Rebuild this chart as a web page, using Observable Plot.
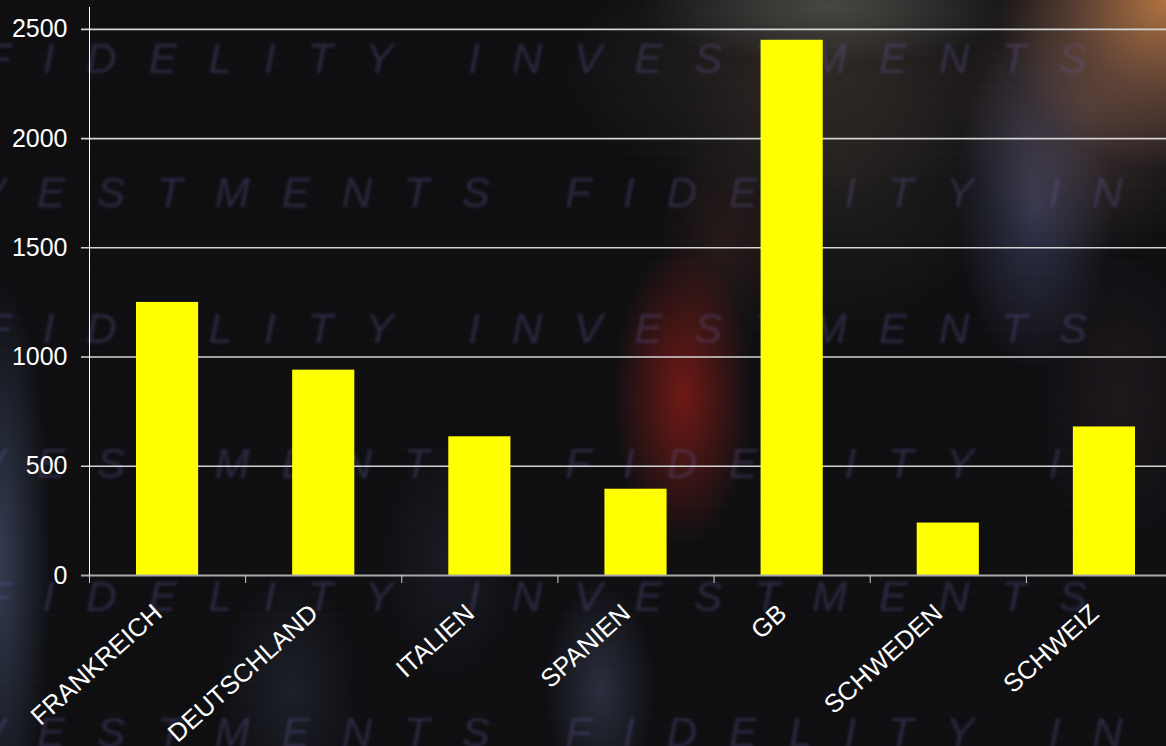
<!DOCTYPE html>
<html>
<head>
<meta charset="utf-8">
<script src="https://cdn.jsdelivr.net/npm/d3@7"></script>
<script src="https://cdn.jsdelivr.net/npm/@observablehq/plot@0.6"></script>
<style>
  html, body { margin: 0; padding: 0; overflow: hidden; background: #0e0e10; }
  #stage {
    position: relative; width: 1166px; height: 746px; overflow: hidden;
    background-color: #0f0f12;
    background-image:
      radial-gradient(ellipse 170px 170px at 1166px 0px, rgba(185,120,68,0.95), rgba(140,95,70,0.5) 55%, transparent),
      radial-gradient(ellipse 130px 150px at 1090px 110px, rgba(120,90,85,0.45), transparent),
      radial-gradient(ellipse 80px 170px at 1035px 200px, rgba(75,80,120,0.6), transparent),
      radial-gradient(ellipse 70px 150px at 683px 395px, rgba(135,28,22,0.8), transparent),
      radial-gradient(ellipse 60px 110px at 720px 250px, rgba(80,40,35,0.35), transparent),
      radial-gradient(ellipse 190px 60px at 830px 5px, rgba(105,110,102,0.55), transparent),
      radial-gradient(ellipse 260px 130px at 820px 70px, rgba(85,70,60,0.4), transparent),
      radial-gradient(ellipse 170px 160px at 840px 170px, rgba(75,66,58,0.3), transparent),
      radial-gradient(ellipse 80px 150px at 1120px 400px, rgba(60,40,48,0.35), transparent),
      radial-gradient(ellipse 50px 280px at 0px 560px, rgba(75,90,125,0.6), transparent),
      radial-gradient(ellipse 55px 110px at 600px 690px, rgba(75,85,115,0.45), transparent),
      radial-gradient(ellipse 70px 120px at 290px 690px, rgba(60,70,95,0.3), transparent),
      radial-gradient(ellipse 70px 120px at 450px 560px, rgba(60,65,90,0.25), transparent),
      repeating-linear-gradient(180deg, rgba(255,255,255,0.0) 0px, rgba(255,255,255,0.0) 9px, rgba(255,255,255,0.018) 10px, rgba(255,255,255,0.0) 11px);
  }
  .wm {
    position: absolute; white-space: nowrap;
    font-family: "Liberation Sans", Arial, sans-serif; font-style: italic;
    font-size: 42px; letter-spacing: 32px; line-height: 1;
    color: rgba(105,95,165,0.3); filter: blur(1.8px);
  }
  #chart { position: absolute; left: 0; top: 0; }
</style>
</head>
<body>
<div id="stage">
  <div class="wm" style="left:-15px; top:38px">FIDELITY INVESTMENTS</div>
  <div class="wm" style="left:-23px; top:172px">VESTMENTS FIDELITY IN</div>
  <div class="wm" style="left:-15px; top:308px">FIDELITY INVESTMENTS</div>
  <div class="wm" style="left:-23px; top:443px">VESTMENTS FIDELITY IN</div>
  <div class="wm" style="left:-15px; top:576px">FIDELITY INVESTMENTS</div>
  <div class="wm" style="left:-23px; top:712px">VESTMENTS FIDELITY IN</div>
  <div id="chart"></div>
</div>
<script>
const countries = ["FRANKREICH", "DEUTSCHLAND", "ITALIEN", "SPANIEN", "GB", "SCHWEDEN", "SCHWEIZ"];
const values = [1250, 940, 635, 395, 2450, 240, 680];
const yTicks = [0, 500, 1000, 1500, 2000, 2500];

const data = countries.map((c, i) => ({country: c, value: values[i], i}));
const boundaries = d3.range(countries.length + 1);

const chart = Plot.plot({
  width: 1200,
  height: 746,
  marginLeft: 89,
  marginRight: 18,
  marginTop: 7,
  marginBottom: 171,
  x: {type: "linear", domain: [0, countries.length], axis: null},
  y: {domain: [0, 2600], axis: null},
  style: {background: "transparent", maxWidth: "none", fontFamily: "'Liberation Sans', Arial, sans-serif", color: "white", overflow: "visible"},
  marks: [
    Plot.ruleY(yTicks.filter(d => d > 0), {y: d => d, stroke: "#d4d4d4", strokeWidth: 1.6, insetLeft: -8}),
    Plot.rectY(data, {x1: "i", x2: d => d.i + 1, y: "value", fill: "#ffff00", insetLeft: 47, insetRight: 47}),
    Plot.ruleY([0], {stroke: "#a9a9a9", strokeWidth: 2, insetLeft: -8}),
    Plot.ruleX([0], {y1: 0, y2: 2600, stroke: "#ffffff", strokeWidth: 1}),
    Plot.ruleX(boundaries, {x: d => d, y1: 0, y2: 0, insetBottom: -8, stroke: "#d0d0d0", strokeWidth: 1}),
    Plot.text(yTicks, {x: 0, y: d => d, text: d => String(d), textAnchor: "end", dx: -22, fontSize: 25, fill: "#ffffff"}),
    Plot.text(data, {x: d => d.i + 0.5, y: 0, text: "country", rotate: -42, textAnchor: "end", lineAnchor: "bottom", dx: -4, dy: 40, fontSize: 25.5, fill: "#ffffff"})
  ]
});
document.getElementById("chart").appendChild(chart);
</script>
</body>
</html>
